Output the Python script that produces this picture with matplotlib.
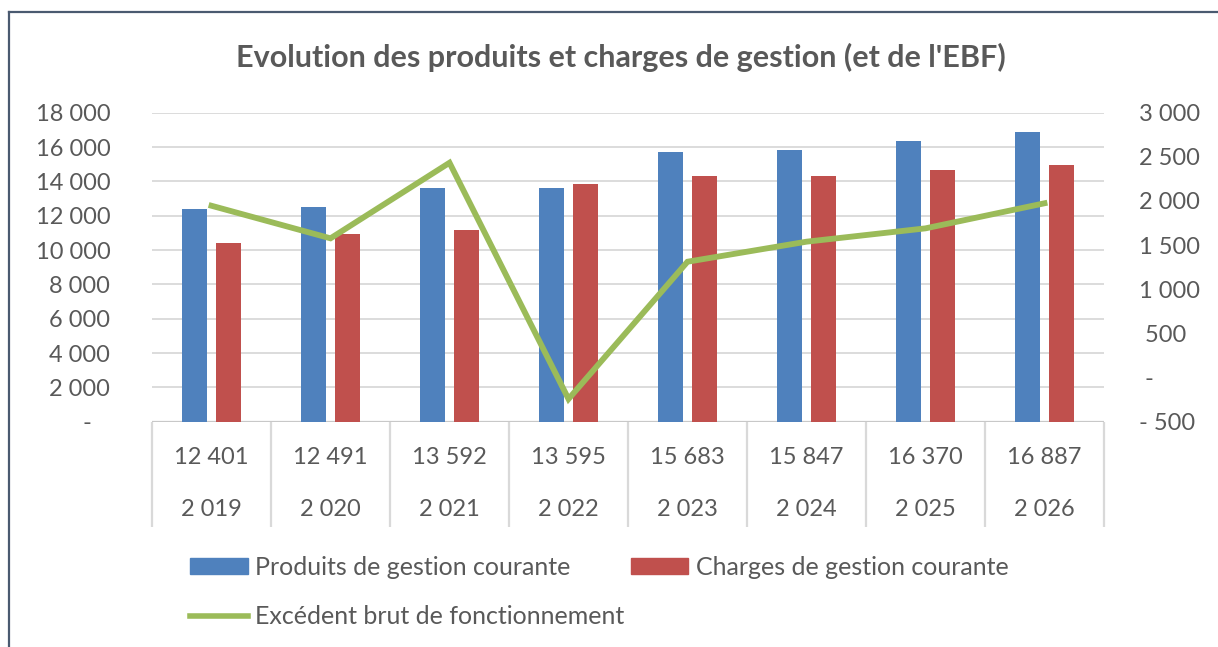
import numpy as np
import matplotlib
matplotlib.use("Agg")
import matplotlib.pyplot as plt
import matplotlib.transforms as mtransforms
from matplotlib.lines import Line2D
from matplotlib.patches import Patch

# ---- data ----
years = ["2 019", "2 020", "2 021", "2 022", "2 023", "2 024", "2 025", "2 026"]
produits_labels = ["12 401", "12 491", "13 592", "13 595", "15 683", "15 847", "16 370", "16 887"]
produits = [12401, 12491, 13592, 13595, 15683, 15847, 16370, 16887]
charges = [10425, 10930, 11180, 13840, 14330, 14330, 14660, 14930]
ebf = [1946, 1577, 2433, -243, 1312, 1539, 1690, 1974]
left_ticks = [0, 2000, 4000, 6000, 8000, 10000, 12000, 14000, 16000, 18000]
left_labels = ["-   ", "2 000", "4 000", "6 000", "8 000", "10 000", "12 000", "14 000", "16 000", "18 000"]
right_ticks = [-500, 0, 500, 1000, 1500, 2000, 2500, 3000]
right_labels = ["- 500", " -", " 500", "1 000", "1 500", "2 000", "2 500", "3 000"]
title = "Evolution des produits et charges de gestion (et de l'EBF)"
series_names = ["Produits de gestion courante", "Charges de gestion courante",
                "Excédent brut de fonctionnement"]

BLUE = "#4f81bd"
RED = "#c0504d"
GREEN = "#9bbb59"
TXT = "#595959"
GRID = "#d9d9d9"

plt.rcParams['font.family'] = ['Lato', 'DejaVu Sans']

W, H = 1218, 647
fig = plt.figure(figsize=(W / 100, H / 100), dpi=100)

ax = fig.add_axes([152 / W, 1 - 421.7 / H, (1104 - 152) / W, (421.7 - 112.7) / H])
x = np.arange(len(years))
ax.bar(x - 0.143, produits, width=0.214, color=BLUE, zorder=2)
ax.bar(x + 0.143, charges, width=0.214, color=RED, zorder=2)
ax.set_xlim(-0.5, len(years) - 0.5)
ax.set_ylim(0, 18000)
ax.set_yticks(left_ticks)
ax.set_yticklabels(left_labels)
ax.set_xticks([])
ax.yaxis.grid(True, color=GRID, lw=1.3, zorder=0)
ax.set_axisbelow(True)
for s in ax.spines.values():
    s.set_visible(False)
ax.tick_params(axis='y', length=0, pad=30, labelsize=17, labelcolor=TXT)
ax.axhline(0, color="#c8c8c8", lw=1.6, zorder=1)

# table-like category axis
trans = mtransforms.blended_transform_factory(ax.transData, ax.transAxes)
tbl_bottom = -(527 - 421.7) / (421.7 - 112.7)
ax.vlines(np.arange(len(years) + 1) - 0.5, tbl_bottom, 0, transform=trans,
          color=GRID, lw=1.6, clip_on=False)
r1 = -(457 - 421.7) / (421.7 - 112.7)
r2 = -(510 - 421.7) / (421.7 - 112.7)
for i in range(len(years)):
    ax.text(i, r1, produits_labels[i], transform=trans, ha='center', va='center',
            fontsize=17, color=TXT)
    ax.text(i, r2, years[i], transform=trans, ha='center', va='center',
            fontsize=17, color=TXT)

ax2 = ax.twinx()
ax2.plot(x, ebf, color=GREEN, lw=4.2, solid_joinstyle='miter', zorder=3)
ax2.set_ylim(-500, 3000)
ax2.set_yticks(right_ticks)
ax2.set_yticklabels(right_labels)
for s in ax2.spines.values():
    s.set_visible(False)
ax2.tick_params(axis='y', length=0, pad=25, labelsize=17, labelcolor=TXT)

fig.text(621 / W, 1 - 57 / H, title, ha='center', va='center', fontsize=22,
         fontweight='bold', color=TXT)

handles = [Patch(color=BLUE), Line2D([], [], color=GREEN, lw=4), Patch(color=RED)]
labels = [series_names[0], series_names[2], series_names[1]]
fig.legend(handles, labels, ncol=2, loc='upper left',
           bbox_to_anchor=(190 / W, 1 - 556 / H), frameon=False, borderpad=0,
           borderaxespad=0, fontsize=18, labelcolor=TXT, handlelength=2.3,
           handleheight=0.6, handletextpad=0.3, columnspacing=0.25, labelspacing=1.05)

# outer frame
fc = "#4a5a70"
fig.add_artist(Line2D([9 / W, 9 / W], [0, 1 - 12 / H], color=fc, lw=1.6,
                      transform=fig.transFigure))
fig.add_artist(Line2D([9 / W, 1], [1 - 12 / H, 1 - 12 / H], color=fc, lw=1.6,
                      transform=fig.transFigure))

fig.savefig("out.png", dpi=100)
